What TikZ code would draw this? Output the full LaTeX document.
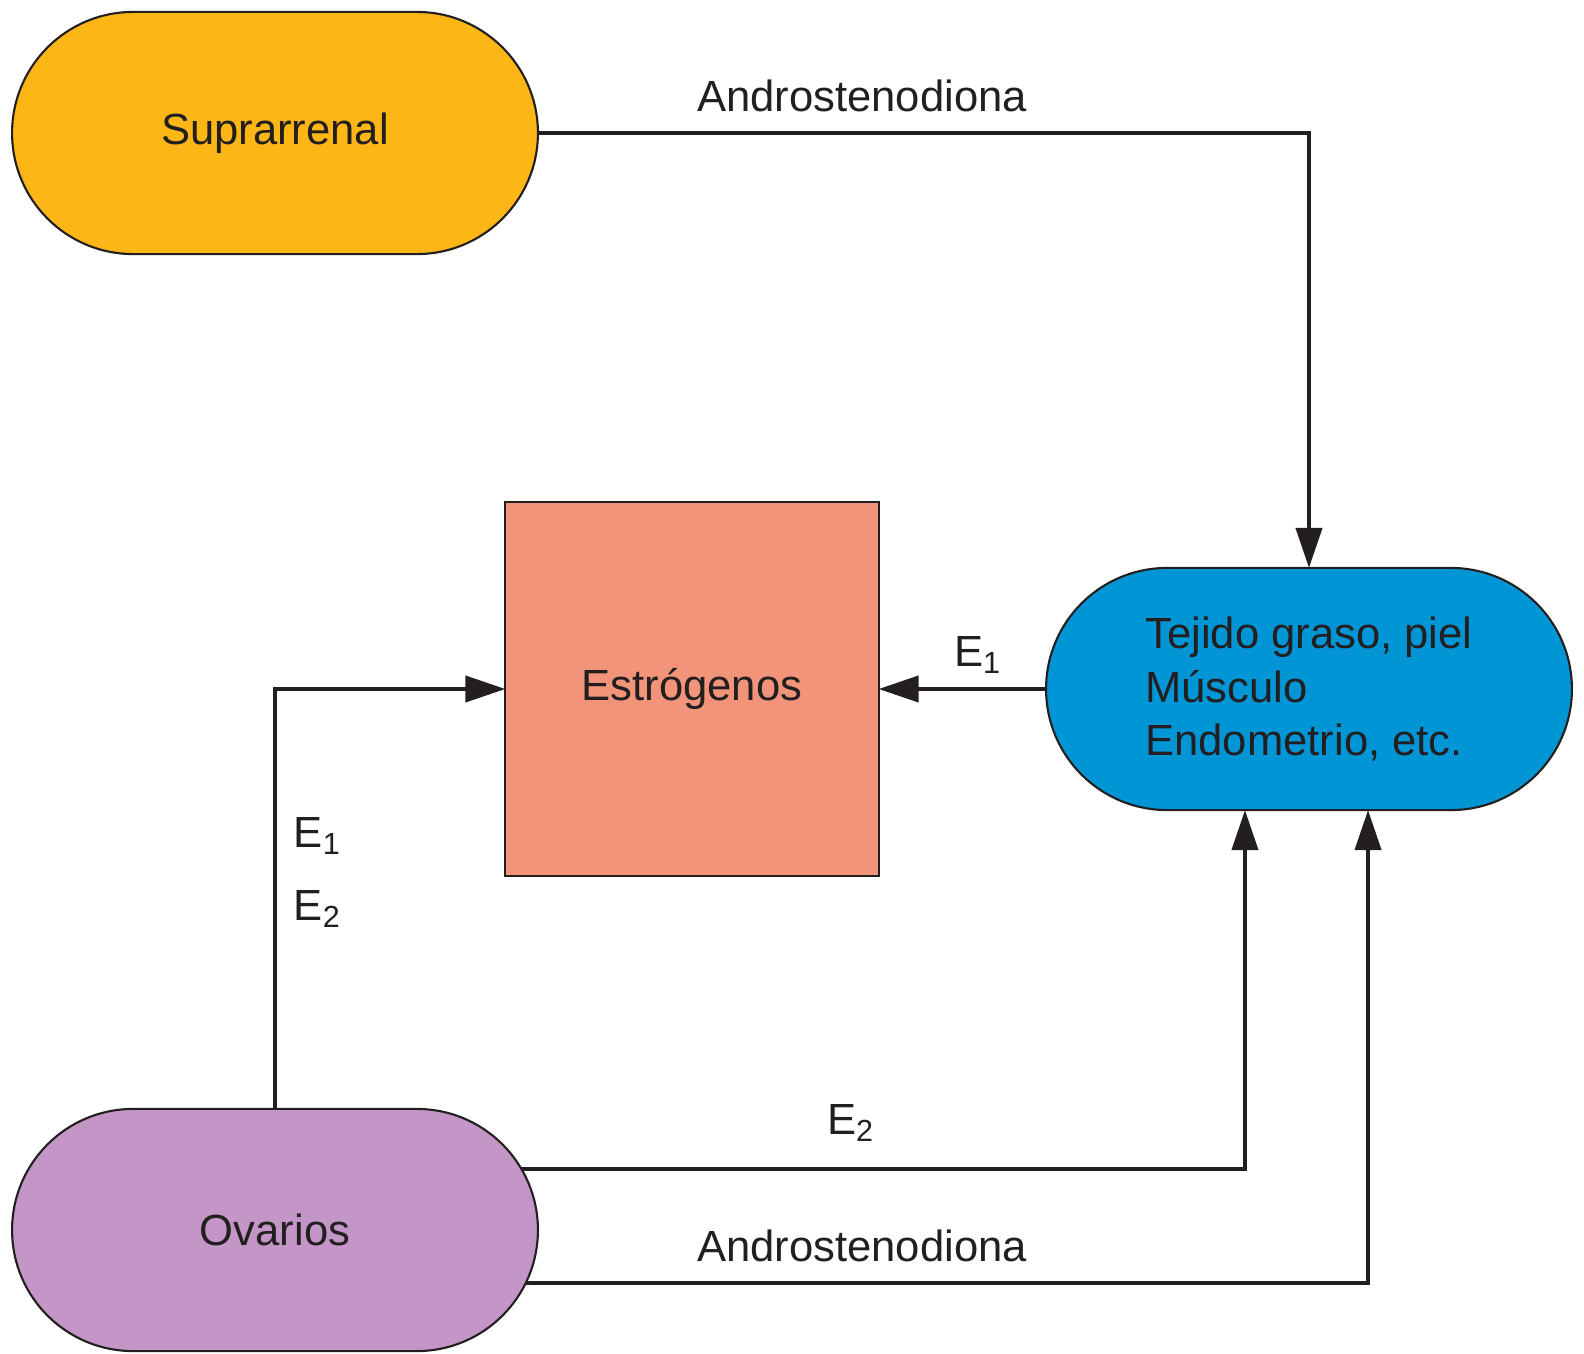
\documentclass[tikz,border=0pt]{standalone}
\usepackage{fontspec}
\setmainfont{Liberation Sans}
\usetikzlibrary{arrows.meta,shapes.misc}
\definecolor{supra}{RGB}{252,182,22}
\definecolor{tejido}{RGB}{0,150,214}
\definecolor{ovar}{RGB}{196,150,200}
\definecolor{estro}{RGB}{241,148,122}
\definecolor{ink}{RGB}{35,31,32}

\begin{document}
\begin{tikzpicture}[x=0.01cm,y=-0.01cm,
  org/.style={rounded rectangle,draw=ink,line width=0.6pt,outer sep=0pt,minimum width=5.49cm,minimum height=2.42cm,font=\fontsize{12.4}{15.2}\selectfont,text=ink},
  lab/.style={font=\fontsize{12.4}{15.2}\selectfont,text=ink,inner sep=0pt},
  arr/.style={draw=ink,line width=1.15pt,-{Triangle[length=0.4cm,width=0.26cm]}}]
  \useasboundingbox (0,0) rectangle (1584,1354);

  \node[org,fill=supra] (sup) at (275,133) {Suprarrenal};
  \node[org,fill=tejido,align=left] (tej) at (1309,689) {Tejido graso, piel\\M\'usculo\\Endometrio, etc.};
  \node[org,fill=ovar] (ov) at (275,1230) {Ovarios};
  \node[rectangle,draw=ink,line width=0.6pt,outer sep=0pt,fill=estro,minimum size=3.73cm,font=\fontsize{12.4}{15.2}\selectfont,text=ink] (est) at (692,689) {Estr\'ogenos};

  \draw[arr] (sup.east) -| (tej.north);
  \draw[arr] (tej.west) -- (est.east);
  \draw[arr] (ov.north) |- (est.west);
  \draw[arr] (ov.14) -| ([xshift=-0.64cm]tej.south);
  \draw[arr] (ov.-12) -| ([xshift=0.59cm]tej.south);

  \node[lab] (andA) at (862,96) {Androstenodiona};
  \node[lab] (andB) at (862,1246) {Androstenodiona};
  \node[lab] (eTej) at (978,655) {E\textsubscript{1}};
  \node[lab,anchor=west] (eOvA) at (293,836) {E\textsubscript{1}};
  \node[lab,anchor=west] (eOvB) at (293,909) {E\textsubscript{2}};
  \node[lab] (eOvC) at (851,1123) {E\textsubscript{2}};
\end{tikzpicture}
\end{document}
